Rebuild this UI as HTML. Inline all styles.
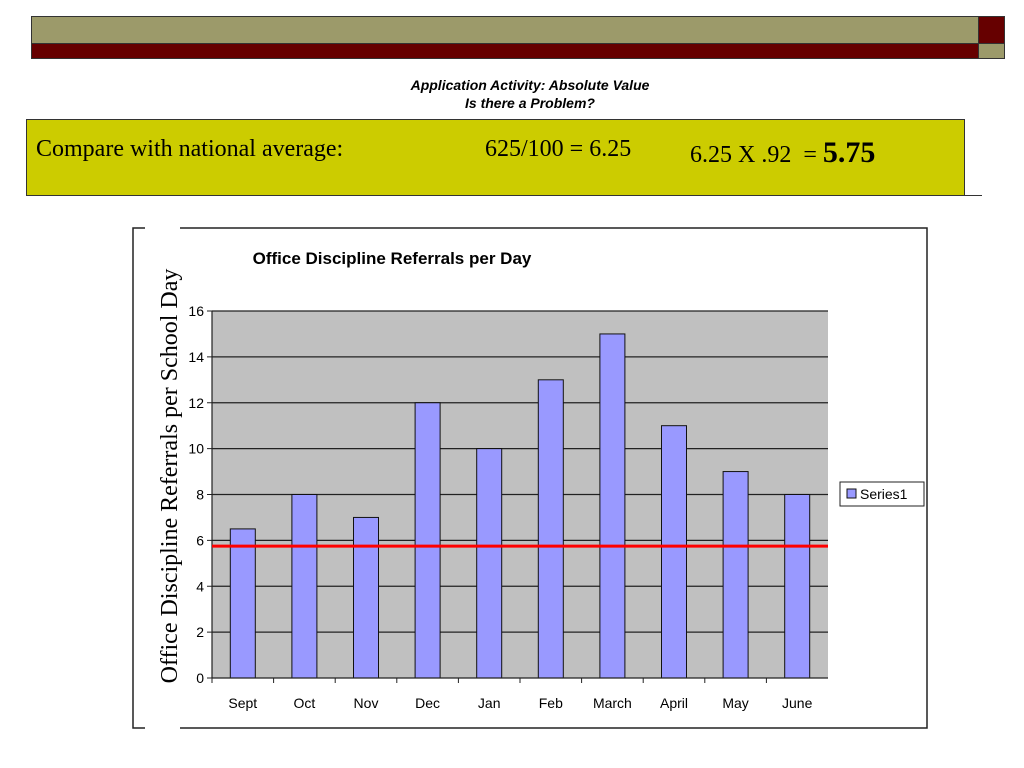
<!DOCTYPE html>
<html><head><meta charset="utf-8"><style>
body{margin:0;width:1024px;height:768px;background:#fff;position:relative;overflow:hidden;font-family:"Liberation Sans",sans-serif}
.a{position:absolute}
</style></head><body>
<div class="a" style="left:31px;top:16px;width:946px;height:26px;background:#9c9a6a;border:1px solid #333"></div>
<div class="a" style="left:31px;top:43px;width:946px;height:14px;background:#660000;border:1px solid #333"></div>
<div class="a" style="left:978px;top:16px;width:25px;height:26px;background:#660000;border:1px solid #333"></div>
<div class="a" style="left:978px;top:43px;width:25px;height:14px;background:#9c9a6a;border:1px solid #333"></div>
<div class="a" style="left:0;width:1060px;top:76px;text-align:center;font-size:14px;font-weight:bold;font-style:italic;line-height:18px">Application Activity: Absolute Value<br>Is there a Problem?</div>
<div class="a" style="left:26px;top:119px;width:937px;height:75px;background:#cccc00;border:1px solid #333"></div>
<div class="a" style="left:26px;top:195px;width:956px;height:1px;background:#333"></div>
<div class="a" style="left:36px;top:136px;font-family:'Liberation Serif',serif;font-size:24px">Compare with national average:</div>
<div class="a" style="left:485px;top:136px;font-family:'Liberation Serif',serif;font-size:24px">625/100 = 6.25</div>
<div class="a" style="left:690px;top:136px;font-family:'Liberation Serif',serif;font-size:24px">6.25 X .92 &nbsp;= <b style="font-size:30px">5.75</b></div>
<svg class="a" style="left:0;top:0" width="1024" height="768">
<g id="g"></g>
</svg>
<script>
const categories=["Sept","Oct","Nov","Dec","Jan","Feb","March","April","May","June"];
const values=[6.5,8,7,12,10,13,15,11,9,8];
const yTicks=[0,2,4,6,8,10,12,14,16];
const refValue=5.75;
const NS="http://www.w3.org/2000/svg";
const g=document.getElementById('g');
const X0=212,X1=828,Y0=678,Y1=311,YMAX=16;
const y=v=>Y0-(v/YMAX)*(Y0-Y1);
const bw=(X1-X0)/categories.length;
const x=i=>X0+bw*i;
function mk(t,a,txt){const e=document.createElementNS(NS,t);for(const k in a)e.setAttribute(k,a[k]);if(txt!==undefined)e.textContent=txt;g.appendChild(e);return e;}
let e;
e=mk('path',{d:'M145,228 H133 V728 H145 M180,228 H927 V728 H180',fill:'none',stroke:'#222','stroke-width':1.5});

e=mk('text',{x:392,y:264,'text-anchor':'middle','font-size':17,'font-weight':'bold','font-family':'Liberation Sans'},'Office Discipline Referrals per Day');

e=mk('rect',{x:X0,y:Y1,width:X1-X0,height:Y0-Y1,fill:'#c0c0c0'});

yTicks.forEach(t=>{
 if(t>0){e=mk('line',{x1:X0,x2:X1,y1:y(t),y2:y(t),stroke:'#222','stroke-width':1.2});}
 e=mk('line',{x1:X0-5,x2:X0,y1:y(t),y2:y(t),stroke:'#222'});
 e=mk('text',{x:X0-8,y:y(t)+5,'text-anchor':'end','font-size':14},t);
});
values.forEach((v,i)=>{
 e=mk('rect',{x:x(i)+bw/2-12.5,y:y(v),width:25,height:Y0-y(v),fill:'#9999ff',stroke:'#111','stroke-width':1});
 
});
categories.forEach((c,i)=>{
 e=mk('line',{x1:x(i),x2:x(i),y1:Y0,y2:Y0+5,stroke:'#222'});
 e=mk('text',{x:x(i)+bw/2,y:708,'text-anchor':'middle','font-size':14},c);
});
e=mk('line',{x1:X0,x2:X1,y1:Y0,y2:Y0,stroke:'#222','stroke-width':1.2});
e=mk('line',{x1:X0,x2:X0,y1:Y1,y2:Y0,stroke:'#222','stroke-width':1.2});
e=mk('line',{x1:X0,x2:X1,y1:y(refValue),y2:y(refValue),stroke:'#ff0000','stroke-width':3});
e=mk('text',{transform:'translate(177,476) rotate(-90)','text-anchor':'middle','font-size':24,'font-family':'Liberation Serif'},'Office Discipline Referrals per School Day');

e=mk('rect',{x:840,y:482,width:84,height:24,fill:'#fff',stroke:'#222'});
e=mk('rect',{x:847,y:489,width:9,height:9,fill:'#9999ff',stroke:'#111'});
e=mk('text',{x:860,y:499,'font-size':14},'Series1');
</script>
</body></html>
